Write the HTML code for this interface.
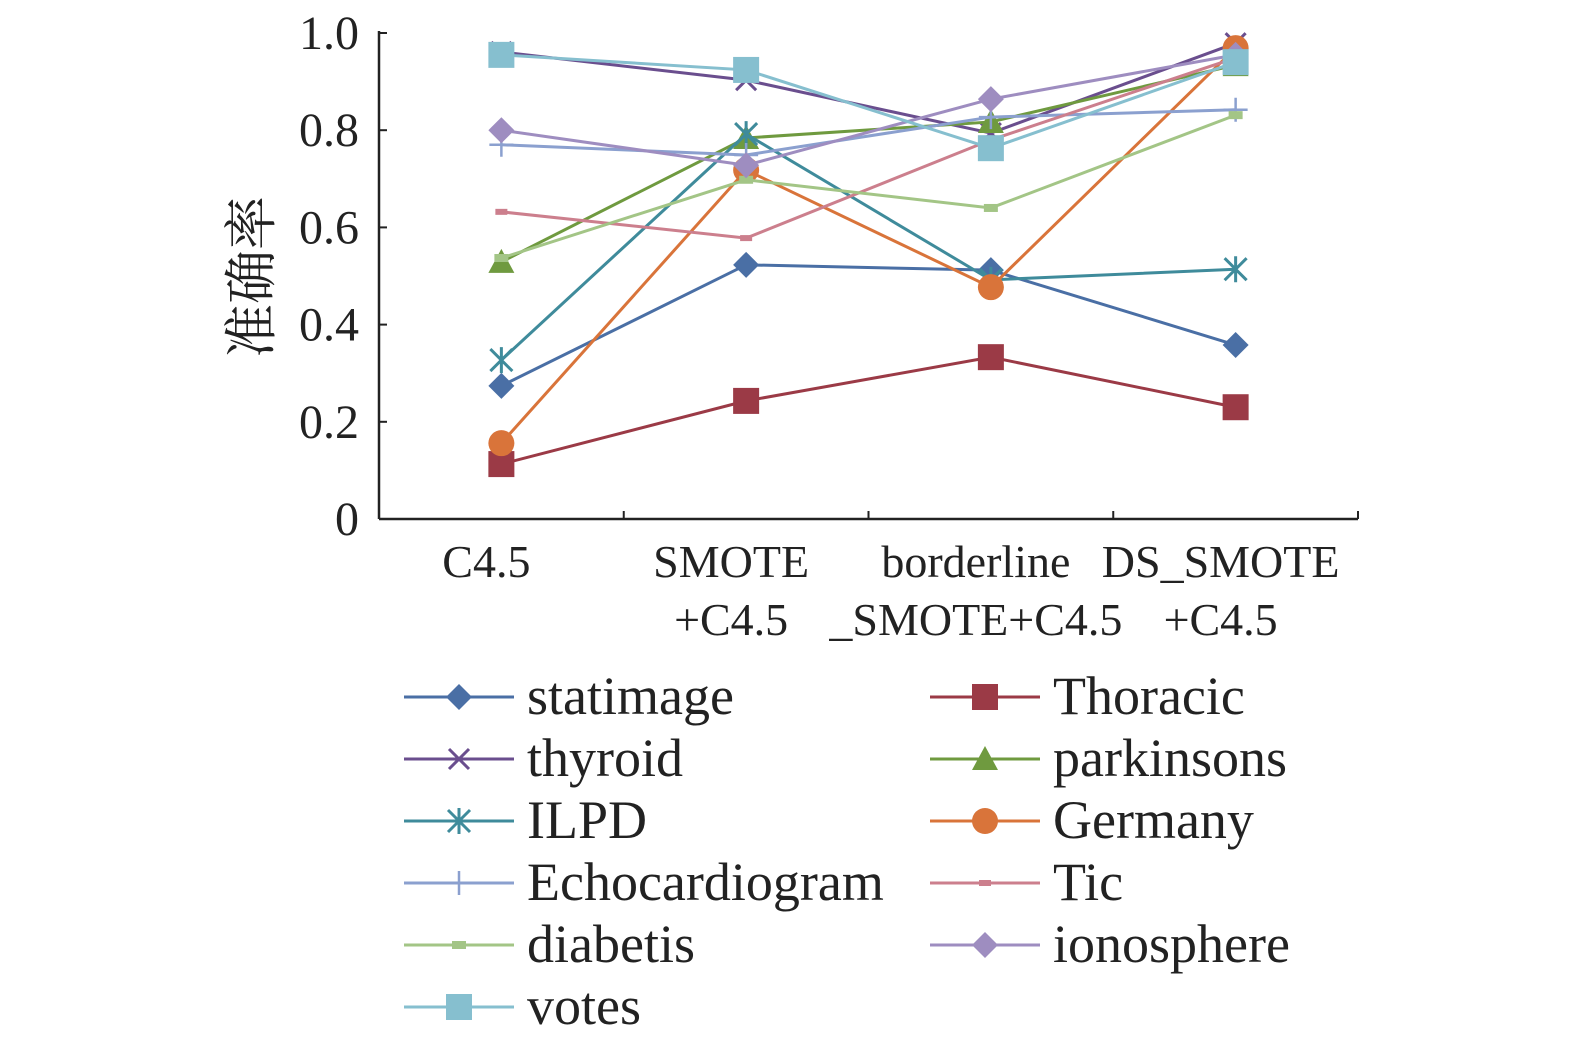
<!DOCTYPE html>
<html><head><meta charset="utf-8">
<style>
html,body{margin:0;padding:0;background:#fff;}
svg{display:block;font-family:"Liberation Serif","Noto Serif CJK SC",serif;}
</style></head>
<body>
<svg id="chart" width="1575" height="1045" viewBox="0 0 1575 1045" xmlns="http://www.w3.org/2000/svg"></svg>
<script>
const categories = [["C4.5"],["SMOTE","+C4.5"],["borderline","_SMOTE+C4.5"],["DS_SMOTE","+C4.5"]];
const yTicks = [0,0.2,0.4,0.6,0.8,1.0];
const yTickLabels = ["0","0.2","0.4","0.6","0.8","1.0"];
const seriesNames = ["statimage","Thoracic","thyroid","parkinsons","ILPD","Germany","Echocardiogram","Tic","diabetis","ionosphere","votes"];
const statimage = [0.274,0.523,0.512,0.358];
const thoracic = [0.113,0.243,0.333,0.230];
const thyroid = [0.961,0.903,0.794,0.979];
const parkinsons = [0.529,0.784,0.817,0.934];
const ilpd = [0.327,0.792,0.492,0.514];
const germany = [0.156,0.718,0.477,0.969];
const echo = [0.770,0.749,0.827,0.842];
const tic = [0.632,0.578,0.780,0.949];
const diabetis = [0.537,0.698,0.640,0.831];
const ionosphere = [0.800,0.728,0.864,0.955];
const votes = [0.955,0.924,0.763,0.940];
const seriesValues = [statimage,thoracic,thyroid,parkinsons,ilpd,germany,echo,tic,diabetis,ionosphere,votes];
const colors = ["#4a6fa5","#9b3a46","#6a4e8e","#6f9a3f","#3f8b9b","#d9743a","#8ba0cf","#cc7f8d","#a3c586","#9e8dc0","#86bfcf"];
const markers = ["diamond","square","x","triangle","star","circle","plus","dash","smallsq","diamond","square"];

const NS="http://www.w3.org/2000/svg";
const svg=document.getElementById('chart');
const X0=379,X1=1358,Y0=519,Y1=33;
const band=(X1-X0)/categories.length;
const xs=i=>X0+band*(i+0.5);
const ys=v=>Y0-(v-0)/(1-0)*(Y0-Y1);
function el(tag,attrs,parent){const e=document.createElementNS(NS,tag);for(const k in attrs)e.setAttribute(k,attrs[k]);(parent||svg).appendChild(e);return e;}

const ax=el('g',{});


el('line',{x1:X0,y1:Y1-2,x2:X0,y2:Y0,stroke:'#222','stroke-width':2.5},ax);
el('line',{x1:X0,y1:Y0,x2:X1,y2:Y0,stroke:'#222','stroke-width':2.5},ax);
yTicks.forEach((t,i)=>{
  el('line',{x1:X0,y1:ys(t),x2:X0+8,y2:ys(t),stroke:'#222','stroke-width':2},ax);
  const tx=el('text',{x:X0-20,y:ys(t)+16,'text-anchor':'end','font-size':48,fill:'#222'},ax);
  tx.textContent=yTickLabels[i];
  
  
});
for(let i=0;i<=categories.length;i++){
  const x=X0+band*i;
  el('line',{x1:x,y1:Y0,x2:x,y2:Y0-8,stroke:'#222','stroke-width':2},ax);
}
categories.forEach((c,i)=>{
  c.forEach((line,j)=>{
    const tx=el('text',{x:xs(i)-15,y:577+j*58,'text-anchor':'middle','font-size':46,fill:'#222'},ax);
    tx.textContent=line;
    
    
  });
});
const yt=el('text',{x:0,y:0,'text-anchor':'middle','font-size':54,fill:'#222',transform:'translate(270,277) rotate(-90)'});
yt.textContent='准确率';



function marker(type,x,y,c,g){
  switch(type){
    case 'diamond': el('polygon',{points:`${x},${y-13} ${x+13},${y} ${x},${y+13} ${x-13},${y}`,fill:c},g);break;
    case 'square': el('rect',{x:x-13,y:y-13,width:26,height:26,fill:c},g);break;
    case 'smallsq': el('rect',{x:x-7,y:y-4,width:14,height:8,fill:c},g);break;
    case 'dash': el('rect',{x:x-6,y:y-3,width:12,height:6,fill:c},g);break;
    case 'circle': el('circle',{cx:x,cy:y,r:13,fill:c},g);break;
    case 'triangle': el('polygon',{points:`${x},${y-13} ${x+13},${y+11} ${x-13},${y+11}`,fill:c},g);break;
    case 'x': el('path',{d:`M${x-10},${y-10}L${x+10},${y+10}M${x+10},${y-10}L${x-10},${y+10}`,stroke:c,'stroke-width':3},g);break;
    case 'star': el('path',{d:`M${x-11},${y-11}L${x+11},${y+11}M${x+11},${y-11}L${x-11},${y+11}M${x},${y-13}L${x},${y+13}`,stroke:c,'stroke-width':3},g);break;
    case 'plus': el('path',{d:`M${x-12},${y}L${x+12},${y}M${x},${y-12}L${x},${y+12}`,stroke:c,'stroke-width':2.5},g);break;
  }
}
seriesValues.forEach((vals,s)=>{
  const g=el('g',{});
  
  
  const pts=vals.map((v,i)=>xs(i)+','+ys(v)).join(' ');
  el('polyline',{points:pts,fill:'none',stroke:colors[s],'stroke-width':3},g);
  vals.forEach((v,i)=>marker(markers[s],xs(i),ys(v),colors[s],g));
});
const lg=el('g',{});


seriesNames.forEach((n,s)=>{
  const col=s%2,row=Math.floor(s/2);
  const lx=col?930:404,y=697+row*62;
  const e=el('g',{},lg);
  
  
  el('line',{x1:lx,y1:y,x2:lx+110,y2:y,stroke:colors[s],'stroke-width':3},e);
  marker(markers[s],lx+55,y,colors[s],e);
  const t=el('text',{x:lx+123,y:y+17,'font-size':54,fill:'#222'},e);
  t.textContent=n;
});
</script>
</body></html>
